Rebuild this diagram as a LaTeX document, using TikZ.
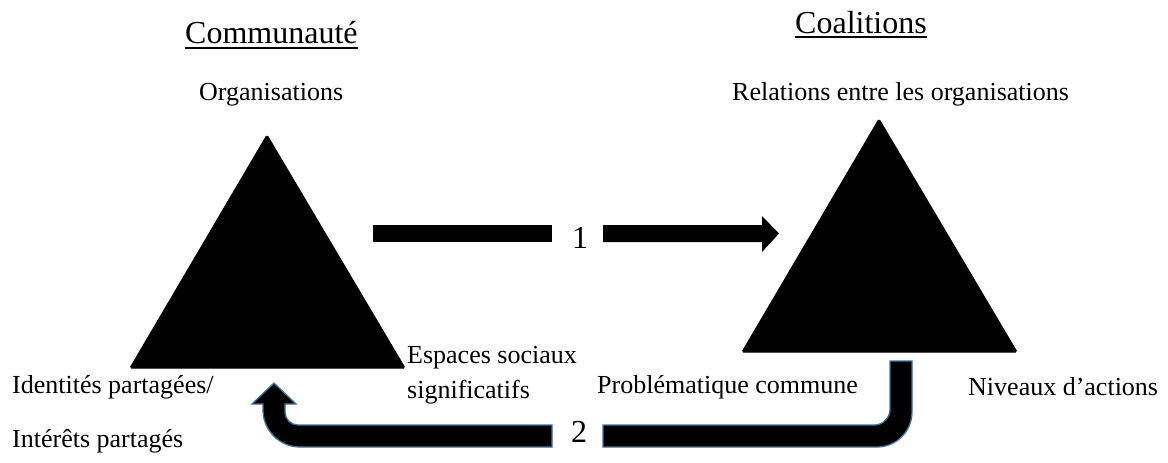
\documentclass[tikz,border=0pt]{standalone}
\usepackage{fontspec}
\setmainfont{Liberation Serif}
\begin{document}
\begin{tikzpicture}[x=1pt,y=-1pt,
  lbl/.style={inner sep=0pt,anchor=base west,font=\fontsize{26}{30}\selectfont},
  head/.style={inner sep=0pt,anchor=base west,font=\fontsize{32}{36}\selectfont},
  num/.style={inner sep=0pt,anchor=base,font=\fontsize{32}{36}\selectfont},
  tri/.style={fill=black,draw=black,line width=1pt,rounded corners=1.5pt},
  bigarrow/.style={fill=black,draw=none},
  backarrow/.style={fill=black,draw={rgb,255:red,65;green,113;blue,156},line width=1.3pt,line join=miter}]
\useasboundingbox (0,0) rectangle (1168,463);

% headings
\node[head] (comm) at (185,43) {Communauté};
\node[head] (coal) at (795,33) {Coalitions};
\draw[line width=1.6pt] ([yshift=-5pt]comm.base west) -- ([yshift=-5pt]comm.base east);
\draw[line width=1.6pt] ([yshift=-4pt]coal.base west) -- ([yshift=-4pt]coal.base east);

% labels
\node[lbl] (org) at (199,100) {Organisations};
\node[lbl] (rel) at (732,100) {Relations entre les organisations};
\node[lbl] (esp1) at (407,363) {Espaces sociaux};
\node[lbl] (esp2) at (407,398) {significatifs};
\node[lbl] (prob) at (597,393) {Problématique commune};
\node[lbl] (niv) at (968,395) {Niveaux d’actions};
\node[lbl] (ident) at (12,393) {Identités partagées/};
\node[lbl] (inter) at (12,447) {Intérêts partagés};

% triangles
\coordinate (LA) at (267,135);
\coordinate (LB) at (130,368);
\coordinate (LC) at (405,368);
\coordinate (RA) at (879,119);
\coordinate (RB) at (742,352);
\coordinate (RC) at (1017,352);
\fill[tri] (LA) -- (LC) -- (LB) -- cycle;
\fill[tri] (RA) -- (RC) -- (RB) -- cycle;

% arrow 1
\node[num] (one) at (580,248) {1};
\fill[bigarrow] (373,225) rectangle (552,242);
\fill[bigarrow] (603,225) -- (762,225) -- (762,216) -- (779,233.5) -- (762,252) -- (762,242) -- (603,242) -- cycle;

% arrow 2
\node[num] (two) at (579,442) {2};
\filldraw[backarrow] (603,425) -- (875,425)
  .. controls (883.3,425) and (890,416.7) .. (890,410)
  -- (890,361) -- (912,361) -- (912,412)
  .. controls (912,431.3) and (896.3,447) .. (877,447)
  -- (603,447) -- cycle;
\filldraw[backarrow] (552,425) -- (552,447) -- (300,447)
  .. controls (279.6,447) and (263,430.4) .. (263,410)
  -- (263,404) -- (252,404) -- (274,383) -- (296,404) -- (285,404) -- (285,412)
  .. controls (285,419.2) and (290.8,425) .. (298,425)
  -- cycle;
\end{tikzpicture}
\end{document}
